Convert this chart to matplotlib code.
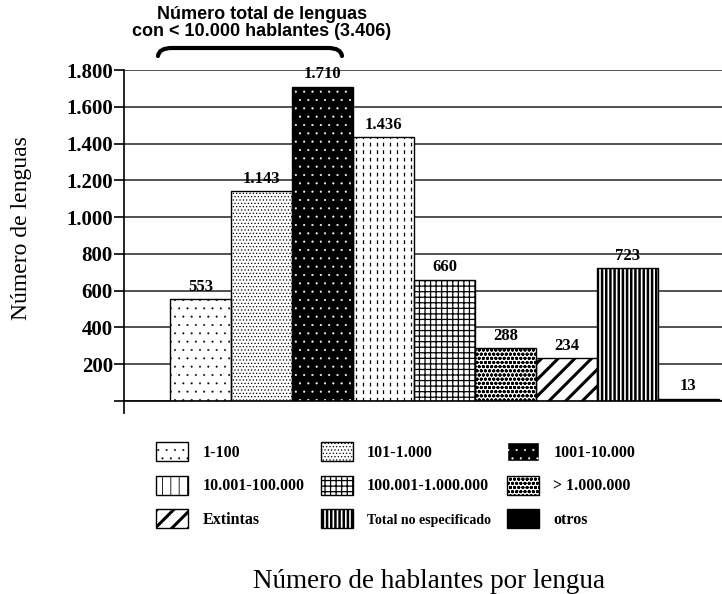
import matplotlib
matplotlib.use("Agg")
import matplotlib.pyplot as plt
from matplotlib.patches import Patch, PathPatch
from matplotlib.path import Path

plt.rcParams['font.family'] = ['Liberation Serif', 'DejaVu Serif']

# data
categorias = ['1-100', '101-1.000', '1001-10.000', '10.001-100.000',
              '100.001-1.000.000', '> 1.000.000', 'Extintas',
              'Total no especificado', 'otros']
lenguas = [553, 1143, 1710, 1436, 660, 288, 234, 723, 13]
etiquetas = ['553', '1.143', '1.710', '1.436', '660', '288', '234', '723', '13']
yticks = [0, 200, 400, 600, 800, 1000, 1200, 1400, 1600, 1800]
ytick_labels = ['', '200', '400', '600', '800', '1.000', '1.200', '1.400', '1.600', '1.800']

# styles per bar (face, hatch colour, hatch, hatch linewidth)
estilos = [
    ('white', 'black', '..', 0.2),
    ('white', 'black', '.....', 0.5),
    ('black', 'white', '..', 0.3),
    ('white', 'black', '', 0.8),      # dashed verticals drawn below
    ('white', 'black', '+++', 0.9),
    ('white', 'black', 'oooo', 1.0),
    ('white', 'black', '//', 2.2),
    ('white', 'black', '||||', 1.8),
    ('black', 'black', '', 0.8),
]

fig = plt.figure(figsize=(7.22, 5.94), dpi=100)
ax = fig.add_axes([124/722, 1-401/594, 598/722, 331/594])

x = list(range(len(lenguas)))
bars = []
for i, v in enumerate(lenguas):
    fc, hc, h, hw = estilos[i]
    with plt.rc_context({'hatch.linewidth': hw}):
        b = ax.bar(x[i], v, width=1.0, color=fc, edgecolor=hc, hatch=h, lw=0, zorder=2)
    ax.bar(x[i], v, width=1.0, fill=False, edgecolor='black', lw=1.0, zorder=3)
    bars.append(b[0])

# dashed vertical lines for 10.001-100.000
p = bars[3]
x0, w, hgt = p.get_x(), p.get_width(), p.get_height()
n = 9
for k in range(n):
    xx = x0 + w*(k+0.5)/n
    ax.plot([xx, xx], [0, hgt], color='black', lw=0.9, ls=(0, (3, 3)), zorder=2.5)

for i, v in enumerate(lenguas):
    ax.annotate(etiquetas[i], (x[i], v), xytext=(0, 3), textcoords='offset points',
                ha='center', va='bottom', fontsize=12, fontweight='bold', zorder=4)

ax.set_xlim(-1.254, 8.55)
ax.set_ylim(0, 1800)
ax.set_yticks(yticks)
ax.set_yticklabels(ytick_labels, fontsize=15, fontweight='bold')
ax.set_xticks([-1.254])
ax.set_xticklabels([''])
ax.tick_params(axis='y', direction='out', length=7, width=1.2, pad=1)
ax.tick_params(axis='x', direction='out', length=9, width=1.2)
ax.grid(axis='y', color='#333333', lw=1.2, zorder=0)
ax.set_axisbelow(True)
for s in ['top', 'right']:
    ax.spines[s].set_visible(False)
ax.spines['left'].set_linewidth(1.2)
ax.spines['bottom'].set_linewidth(1.2)

fig.text(22/722, 1-228/594, 'Número de lenguas', rotation=90, ha='center', va='center', fontsize=17)
fig.text(429/722, 1-588/594, 'Número de hablantes por lengua', ha='center', va='baseline', fontsize=19.5)

fig.text(262/722, 1-23/594, 'Número total de lenguas\ncon < 10.000 hablantes (3.406)',
         ha='center', va='center', fontsize=13, fontweight='bold',
         family=['Liberation Sans', 'DejaVu Sans'], linespacing=1.05)

# brace
pts = [(158, 56), (159, 48), (172, 48), (328, 48), (341, 48), (342, 56)]
codes = [Path.MOVETO, Path.CURVE3, Path.CURVE3, Path.LINETO, Path.CURVE3, Path.CURVE3]
verts = [(px/722, 1-py/594) for px, py in pts]
fig.add_artist(PathPatch(Path(verts, codes), transform=fig.transFigure,
                         fill=False, lw=3, edgecolor='black', capstyle='round'))

# legend
handles = []
hatch_lw = []
for i in range(len(categorias)):
    fc, hc, h, hw = estilos[i]
    if i == 3:
        h, hw = '||', 0.6
    handles.append(Patch(facecolor=fc, edgecolor=hc, hatch=h, lw=1))
    hatch_lw.append(hw)
orden = [0, 3, 6, 1, 4, 7, 2, 5, 8]
leg = fig.legend([handles[j] for j in orden], [categorias[j] for j in orden],
                 ncol=3, loc='upper left', bbox_to_anchor=(142/722, 1-428/594),
                 frameon=False, handlelength=2.0, handleheight=1.45,
                 labelspacing=0.9, handletextpad=0.9, columnspacing=1.0,
                 prop={'size': 11.5, 'weight': 'bold'})
for patch, j in zip(leg.get_patches(), orden):
    if hasattr(patch, 'set_hatch_linewidth'):
        patch.set_hatch_linewidth(hatch_lw[j])
    else:
        patch._hatch_linewidth = hatch_lw[j]
for t in leg.get_texts():
    if t.get_text() == 'Total no especificado':
        t.set_fontsize(10)

fig.savefig('out.png', dpi=100)
